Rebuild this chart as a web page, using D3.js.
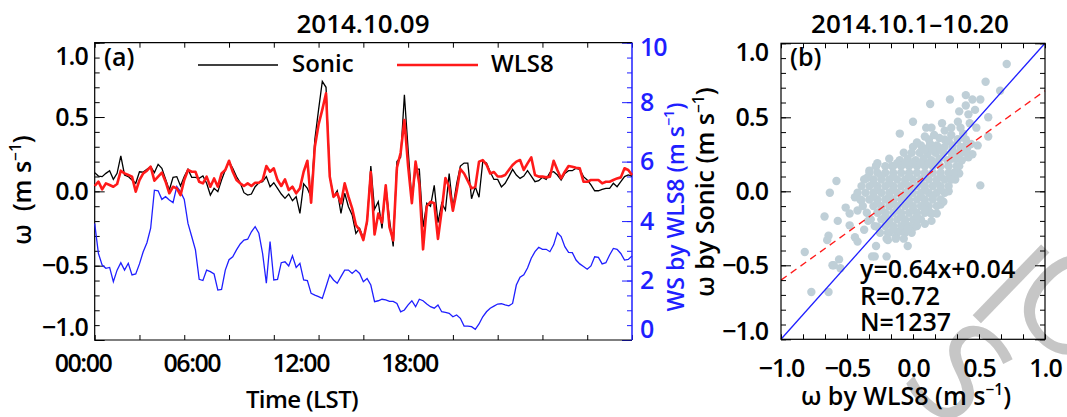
<!DOCTYPE html>
<html><head><meta charset="utf-8">
<script src="https://cdn.jsdelivr.net/npm/d3@7"></script>
<style>
body{margin:0;background:#fff;}
svg text{font-family:'Open Sans',sans-serif;font-weight:600;fill:#000;}
</style>
</head><body>
<svg id="chart" width="1067" height="417"></svg>
<script>
// ---------------- data ----------------
const timeLabels = ["00:00", "06:00", "12:00", "18:00"];
const omegaTicks = [-1, -0.5, 0, 0.5, 1];
const wsTicks = [0, 2, 4, 6, 8, 10];

// 10-min series, 00:00 .. 24:00 (145 samples)
const sonic = [
 0.126,0.103,0.099,0.121,0.139,0.081,0.121,0.238,0.110,0.099,0.076,0.054,0.132,0.130,0.148,0.166,0.126,0.182,0.155,0.081,
 0.009,0.094,0.099,0.036,0.099,0.148,0.094,0.094,0.087,0.103,0.054,-0.025,0.020,-0.002,0.076,0.144,0.200,
 0.155,0.099,0.058,-0.009,-0.025,-0.018,0.031,0.058,0.065,0.099,0.031,0.058,0.020,-0.018,-0.047,-0.018,-0.063,-0.036,-0.148,
 0.05,0.02,-0.04,0.35,0.55,0.74,0.70,0.10,-0.036,0.004,-0.148,-0.013,-0.103,-0.159,-0.283,-0.249,-0.316,-0.21,
 0.17,-0.12,-0.07,-0.25,0.04,-0.19,-0.37,0.20,0.23,0.65,0.28,-0.06,0.15,0.15,-0.24,-0.08,-0.10,0.04,-0.21,-0.08,
 -0.126,0.12,-0.11,0.05,0.17,0.19,0.19,-0.05,0.03,-0.04,0.20,0.19,0.13,0.08,0.08,0.03,
 0.054,0.099,0.148,0.11,0.087,0.103,0.139,0.103,0.065,0.072,0.094,0.081,0.126,0.132,0.11,0.076,0.121,0.139,0.139,0.155,
 0.148,0.099,0.076,0.043,0.004,0.004,0.013,0.02,0.02,0.054,0.031,0.065,0.099,0.11,0.103
];
const wls8 = [
 0.036,0.065,0.013,0.054,0.043,0.031,0.049,0.139,0.121,0.110,0.099,-0.002,0.076,0.121,0.139,0.166,0.072,0.099,0.126,0.065,
 -0.013,0.031,0.020,-0.025,0.076,0.144,0.132,0.132,0.065,0.054,0.099,0.031,0.087,0.031,0.121,0.144,0.206,
 0.132,0.076,0.054,0.036,0.054,0.036,0.058,0.058,0.076,0.170,0.132,0.155,0.076,0.036,0.081,0.009,0.031,-0.013,0.02,
 0.132,0.206,-0.076,0.30,0.45,0.55,0.66,0.099,-0.036,-0.013,-0.081,0.054,-0.036,-0.114,-0.227,-0.26,-0.328,-0.2,
 0.13,-0.29,-0.15,-0.21,0.04,-0.24,-0.33,0.16,0.26,0.48,0.17,-0.08,0.20,0.05,-0.39,-0.10,-0.07,-0.08,-0.32,-0.13,
 0.09,0.03,-0.13,0.0,0.15,0.12,0.07,0.02,0.03,0.20,0.21,0.18,0.12,0.13,0.10,0.10,
 0.11,0.144,0.177,0.2,0.211,0.144,0.188,0.229,0.11,0.099,0.099,0.094,0.099,0.206,0.144,0.087,0.132,0.17,0.166,0.159,
 0.155,0.065,0.065,0.076,0.076,0.076,0.054,0.065,0.065,0.076,0.087,0.094,0.155,0.144,0.11
];
const windSpeed = [
 3.92,2.91,2.52,2.41,2.44,1.96,2.35,2.60,2.35,2.58,2.19,2.22,2.56,2.97,3.27,3.76,5.04,5.02,4.73,4.82,
 4.71,4.62,5.16,4.99,4.73,3.92,3.48,3.03,2.04,2.00,2.35,2.30,2.22,1.68,1.70,2.35,2.70,
 2.80,3.03,3.23,3.36,3.39,3.64,3.81,3.59,2.91,1.91,3.31,2.02,2.04,2.60,2.63,2.49,2.83,2.44,2.58,2.02,
 2.00,1.57,1.51,1.46,1.40,1.79,2.19,2.02,1.91,2.13,2.35,2.35,2.24,2.35,2.24,1.96,2.07,
 1.85,1.29,1.32,1.37,1.35,1.30,1.30,1.23,0.95,1.01,1.18,1.32,1.12,1.37,1.32,1.21,1.12,1.07,1.18,0.95,
 0.93,0.90,0.78,0.84,0.73,0.47,0.47,0.45,0.36,0.54,0.78,0.95,1.07,1.14,1.21,1.22,
 1.18,1.15,1.23,1.85,2.11,2.19,2.42,2.75,2.97,3.12,3.05,3.05,2.97,3.20,3.61,3.48,3.14,2.95,2.94,2.69,
 2.56,2.47,2.38,2.49,2.80,2.78,2.56,2.60,2.86,3.08,3.05,2.91,2.69,2.71,2.83
];

// scatter (b): [omega by WLS8, omega by Sonic]
const scatterPoints = [
 [0.71,0.86],[0.55,0.74],[0.66,0.68],[0.28,0.62],[0.13,0.59],[0.40,0.65],[0.45,0.62],[0.51,0.62],[0.35,0.54],[0.40,0.58],
 [0.47,0.55],[0.57,0.50],[0.00,0.47],[0.14,0.43],[0.22,0.46],[0.09,0.37],[-0.10,0.39],[0.29,0.43],[0.34,0.47],[0.42,0.52],
 [0.43,0.46],[0.49,0.31],[0.57,0.37],[0.42,0.23],[0.35,0.17],[0.51,0.04],[0.29,0.10],[0.21,-0.09],[0.18,-0.15],[0.09,-0.22],
 [0.14,-0.20],[0.01,-0.24],[-0.58,0.07],[-0.63,-0.01],[-0.35,0.09],[-0.28,0.17],[-0.51,-0.11],[-0.42,-0.13],[-0.48,-0.15],
 [-0.57,-0.20],[-0.67,-0.17],[-0.64,-0.30],[-0.65,-0.33],[-0.44,-0.31],[-0.82,-0.41],[-0.61,-0.50],[-0.56,-0.46],[-0.55,-0.52],
 [-0.77,-0.68],[-0.64,-0.68],[-0.42,-0.34],[-0.29,-0.44],[-0.28,-0.37],[-0.48,-0.23],[-0.37,-0.26],[-0.19,-0.28],[-0.10,-0.27],
 [-0.31,-0.44],[-0.20,-0.44],[-0.60,-0.50],
 [0.10,0.43],[0.16,0.38],[0.24,0.35],[0.29,0.38],[0.34,0.35],[0.38,0.39],[0.39,0.30],[0.30,0.28],[0.19,0.30],[0.13,0.32],
 [0.24,0.41],[0.36,0.43],[0.40,0.35],[0.45,0.25],[0.44,0.32],[0.29,0.22],[0.35,0.25],[0.48,0.43],
 [-0.33,0.14],[-0.27,0.19],[-0.16,0.17],[-0.44,-0.04],[-0.39,-0.06],[-0.34,-0.20],[-0.27,-0.24],[-0.19,-0.33],[-0.13,-0.31],
 [-0.06,-0.26],[-0.04,-0.37],[0.04,-0.19],[0.14,-0.15],[0.23,-0.07],[0.27,0.00],[0.32,0.08],[0.35,0.12],
 [0.12,0.35],[0.20,0.36],[0.27,0.34],[0.34,0.35],
 [0.00,0.30],[0.06,0.31],[0.12,0.30],[0.18,0.31],[0.24,0.30],[0.30,0.31],[0.36,0.30],[0.41,0.29],
 [-0.07,0.26],[-0.01,0.26],[0.05,0.26],[0.11,0.25],[0.17,0.26],[0.23,0.26],[0.29,0.26],[0.35,0.26],[0.40,0.26],
 [-0.18,0.22],[-0.10,0.21],[-0.04,0.22],[0.02,0.21],[0.08,0.22],[0.14,0.21],[0.20,0.22],[0.26,0.21],[0.32,0.22],[0.37,0.21],
 [-0.28,0.17],[-0.21,0.17],[-0.15,0.17],[-0.09,0.17],[-0.03,0.17],[0.03,0.17],[0.09,0.17],[0.15,0.17],[0.21,0.17],[0.27,0.17],[0.33,0.17],
 [-0.33,0.125],[-0.27,0.125],[-0.21,0.125],[-0.15,0.125],[-0.09,0.125],[-0.03,0.125],[0.03,0.125],[0.09,0.125],[0.15,0.125],[0.21,0.125],[0.27,0.125],[0.31,0.125],
 [-0.37,0.08],[-0.30,0.08],[-0.24,0.08],[-0.18,0.08],[-0.12,0.08],[-0.06,0.08],[0.00,0.08],[0.06,0.08],[0.12,0.08],[0.18,0.08],[0.24,0.08],[0.29,0.08],
 [-0.39,0.035],[-0.33,0.035],[-0.27,0.035],[-0.21,0.035],[-0.15,0.035],[-0.09,0.035],[-0.03,0.035],[0.03,0.035],[0.09,0.035],[0.15,0.035],[0.21,0.035],[0.27,0.035],
 [-0.42,-0.01],[-0.36,-0.01],[-0.30,-0.01],[-0.24,-0.01],[-0.18,-0.01],[-0.12,-0.01],[-0.06,-0.01],[0.00,-0.01],[0.06,-0.01],[0.12,-0.01],[0.18,-0.01],[0.24,-0.01],
 [-0.40,-0.055],[-0.33,-0.055],[-0.27,-0.055],[-0.21,-0.055],[-0.15,-0.055],[-0.09,-0.055],[-0.03,-0.055],[0.03,-0.055],[0.09,-0.055],[0.15,-0.055],[0.21,-0.055],
 [-0.38,-0.10],[-0.30,-0.10],[-0.24,-0.10],[-0.18,-0.10],[-0.12,-0.10],[-0.06,-0.10],[0.00,-0.10],[0.06,-0.10],[0.12,-0.10],[0.18,-0.10],
 [-0.35,-0.145],[-0.27,-0.145],[-0.21,-0.145],[-0.15,-0.145],[-0.09,-0.145],[-0.03,-0.145],[0.03,-0.145],[0.09,-0.145],[0.13,-0.145],
 [-0.32,-0.19],[-0.24,-0.19],[-0.18,-0.19],[-0.12,-0.19],[-0.06,-0.19],[0.00,-0.19],[0.06,-0.19],
 [-0.29,-0.235],[-0.21,-0.235],[-0.15,-0.235],[-0.09,-0.235],[-0.03,-0.235],[0.03,-0.235],
 [-0.25,-0.28],[-0.18,-0.28],[-0.12,-0.28],[-0.06,-0.28],[-0.01,-0.28],
 [-0.20,-0.32],[-0.13,-0.32],[-0.07,-0.32],
 [0.03,0.33],[0.09,0.28],[0.15,0.28],[0.21,0.28],[-0.12,0.19],[-0.06,0.19],[0.00,0.19],[0.06,0.19],[0.12,0.19],[0.18,0.19],
 [-0.24,0.10],[-0.15,0.10],[-0.03,0.10],[0.09,0.10],[0.21,0.10],[-0.30,0.055],[-0.18,0.055],[-0.06,0.055],[0.06,0.055],[0.18,0.055],
 [-0.27,0.01],[-0.15,0.01],[-0.03,0.01],[0.09,0.01],[0.21,0.01],[-0.30,-0.035],[-0.18,-0.035],[-0.06,-0.035],[0.06,-0.035],[0.15,-0.035],
 [-0.27,-0.08],[-0.15,-0.08],[-0.03,-0.08],[0.09,-0.08],[-0.24,-0.125],[-0.12,-0.125],[0.00,-0.125],[0.09,-0.125],
 [-0.21,-0.17],[-0.09,-0.17],[0.03,-0.17],[-0.18,-0.21],[-0.06,-0.21],[-0.15,-0.255],[-0.04,-0.255]
];
const fitSlope = 0.64, fitIntercept = 0.04;
const statLines = ["y=0.64x+0.04", "R=0.72", "N=1237"];

// ---------------- drawing ----------------
const svg = d3.select("#chart");
const BLUE = "#1f1fff", RED = "#ff1a1a", DOT = "#bfcfd7";
const fmt = d3.format(".1f");

// watermark fragments (behind everything)
const wm = svg.append("g");
[["S", 899, 381], ["I", 963, 306], ["O", 1001, 303]].forEach(([t, x, y]) => {
  wm.append("text").text(t).attr("transform", `translate(${x},${y}) rotate(44)`)
    .style("font-size", "138px").style("font-weight", 400).style("fill", "#c6c6c6");
});

function unitText(sel, prefix, size) {
  sel.append("tspan").text(prefix + "(m s");
  sel.append("tspan").attr("dy", -size * 0.42).style("font-size", (size * 0.62) + "px").text("\u22121");
  sel.append("tspan").attr("dy", size * 0.42).text(")");
}

// ===== panel (a) =====
const A = {x0: 94.7, x1: 632, y0: 42.7, y1: 340};
const times = sonic.map((d, i) => i * 24 / (sonic.length - 1));
const xT = d3.scaleLinear().domain([0, 24]).range([A.x0, A.x1]);
const yW = d3.scaleLinear().domain([-1, 1]).range([A.y1, A.y0]);
const yWS = d3.scaleLinear().domain([0, 10]).range([A.y1, A.y0]);
const xLab = d3.scalePoint().domain(timeLabels).range([82.5, 409]);

const gA = svg.append("g");
const noDomain = g => g.select(".domain").remove();

gA.append("g").attr("transform", `translate(${A.x0},0)`)
  .call(d3.axisLeft(yW).tickValues(d3.range(-10, 11).map(d => d / 10)).tickSize(-5).tickFormat(""))
  .call(noDomain);
const axL = gA.append("g").attr("transform", `translate(${A.x0},0)`)
  .call(d3.axisLeft(yW).tickValues(omegaTicks).tickSize(-10).tickPadding(7).tickFormat(fmt))
  .call(noDomain);
axL.selectAll(".tick text").style("font-size", "25px").style("letter-spacing", "-1px")
  .attr("y", d => d === 1 ? 14 : d === -1 ? -13 : 0);

gA.append("g").attr("transform", `translate(${A.x1},0)`)
  .call(d3.axisRight(yWS).tickValues(d3.range(0, 21).map(d => d / 2)).tickSize(-5).tickFormat(""))
  .call(noDomain).selectAll("line").attr("stroke", BLUE);
const axR = gA.append("g").attr("transform", `translate(${A.x1},0)`)
  .call(d3.axisRight(yWS).tickValues(wsTicks).tickSize(-10).tickPadding(8).tickFormat(d3.format("d")))
  .call(noDomain);
axR.selectAll("line").attr("stroke", BLUE);
axR.selectAll(".tick text").style("font-size", "25px").style("fill", BLUE).style("letter-spacing", "-1px")
  .attr("y", d => d === 10 ? 5 : d === 0 ? -11 : 0);

gA.append("g").attr("transform", `translate(0,${A.y1})`)
  .call(d3.axisBottom(xT).tickValues(d3.range(0, 25, 2)).tickSize(-5).tickFormat("")).call(noDomain);
gA.append("g").attr("transform", `translate(0,${A.y0})`)
  .call(d3.axisTop(xT).tickValues(d3.range(0, 25, 2)).tickSize(-5).tickFormat("")).call(noDomain);
const axB = gA.append("g").attr("transform", `translate(0,${A.y1})`)
  .call(d3.axisBottom(xLab).tickSize(0).tickPadding(14)).call(noDomain);
axB.selectAll(".tick text").style("font-size", "25px").style("letter-spacing", "-1.5px");

gA.append("path").attr("d", `M${A.x1},${A.y0}H${A.x0}V${A.y1}H${A.x1}`).attr("fill", "none").attr("stroke", "#000").attr("stroke-width", 1.2);
gA.append("line").attr("x1", A.x1).attr("x2", A.x1).attr("y1", A.y0).attr("y2", A.y1).attr("stroke", BLUE).attr("stroke-width", 1.5);

const lineW = d3.line().x((d, i) => xT(times[i])).y(d => yW(d));
const lineWS = d3.line().x((d, i) => xT(times[i])).y(d => yWS(d));
gA.append("path").datum(windSpeed).attr("d", lineWS).attr("fill", "none").attr("stroke", BLUE).attr("stroke-width", 1.3);
gA.append("path").datum(sonic).attr("d", lineW).attr("fill", "none").attr("stroke", "#000").attr("stroke-width", 1.3);
gA.append("path").datum(wls8).attr("d", lineW).attr("fill", "none").attr("stroke", RED).attr("stroke-width", 2.6).attr("stroke-linejoin", "round");

gA.append("line").attr("x1", 198).attr("x2", 278).attr("y1", 65).attr("y2", 65).attr("stroke", "#000").attr("stroke-width", 1.3);
gA.append("text").attr("x", 292).attr("y", 72).style("font-size", "24px").text("Sonic");
gA.append("line").attr("x1", 397).attr("x2", 478).attr("y1", 65).attr("y2", 65).attr("stroke", RED).attr("stroke-width", 2.6);
gA.append("text").attr("x", 491).attr("y", 72).style("font-size", "24px").text("WLS8");
gA.append("text").attr("x", 104).attr("y", 66).style("font-size", "25px").text("(a)");

gA.append("text").attr("x", 363).attr("y", 33).attr("text-anchor", "middle").style("font-size", "26px").text("2014.10.09");
gA.append("text").attr("x", 302).attr("y", 408).attr("text-anchor", "middle").style("font-size", "24px").style("letter-spacing", "-0.6px").text("Time (LST)");
unitText(gA.append("text").attr("transform", "translate(31,190) rotate(-90)").attr("text-anchor", "middle").style("font-size", "25px"), "\u03c9\u00a0\u00a0", 25);
const wsLab = gA.append("text").attr("transform", "translate(684,207) rotate(-90)").attr("text-anchor", "middle").style("font-size", "23px").style("fill", BLUE);
unitText(wsLab, "WS by WLS8 ", 23);
wsLab.selectAll("tspan").style("fill", BLUE);

// ===== panel (b) =====
const B = {x0: 781, x1: 1045, y0: 43.3, y1: 339.3};
const xS = d3.scaleLinear().domain([-1, 1]).range([B.x0, B.x1]);
const yS = d3.scaleLinear().domain([-1, 1]).range([B.y1, B.y0]);
const gB = svg.append("g");

gB.selectAll("circle").data(scatterPoints).join("circle")
  .attr("cx", d => xS(d[0])).attr("cy", d => yS(d[1])).attr("r", 4.2).attr("fill", DOT);

gB.append("line").attr("x1", xS(-1)).attr("y1", yS(-1)).attr("x2", xS(1)).attr("y2", yS(1))
  .attr("stroke", BLUE).attr("stroke-width", 1.3);
gB.append("line").attr("x1", xS(-1)).attr("y1", yS(fitSlope * -1 + fitIntercept))
  .attr("x2", xS(1)).attr("y2", yS(fitSlope * 1 + fitIntercept))
  .attr("stroke", RED).attr("stroke-width", 1.3).attr("stroke-dasharray", "7,5");

const tenths = d3.range(-10, 11).map(d => d / 10);
const sixths = d3.range(0, 13).map(i => -1 + i / 6);
gB.append("g").attr("transform", `translate(${B.x0},0)`).call(d3.axisLeft(yS).tickValues(tenths).tickSize(-5).tickFormat("")).call(noDomain);
gB.append("g").attr("transform", `translate(${B.x1},0)`).call(d3.axisRight(yS).tickValues(tenths).tickSize(-5).tickFormat("")).call(noDomain);
gB.append("g").attr("transform", `translate(${B.x1},0)`).call(d3.axisRight(yS).tickValues(omegaTicks).tickSize(-10).tickFormat("")).call(noDomain);
const axBL = gB.append("g").attr("transform", `translate(${B.x0},0)`)
  .call(d3.axisLeft(yS).tickValues(omegaTicks).tickSize(-10).tickPadding(13).tickFormat(fmt)).call(noDomain);
axBL.selectAll(".tick text").style("font-size", "25px").style("letter-spacing", "-1px")
  .attr("y", d => d === 1 ? 9 : d === -1 ? -8 : 0);
gB.append("g").attr("transform", `translate(0,${B.y1})`).call(d3.axisBottom(xS).tickValues(sixths).tickSize(-5).tickFormat("")).call(noDomain);
gB.append("g").attr("transform", `translate(0,${B.y0})`).call(d3.axisTop(xS).tickValues(sixths).tickSize(-5).tickFormat("")).call(noDomain);
const axBB = gB.append("g").attr("transform", `translate(0,${B.y1})`)
  .call(d3.axisBottom(xS).tickValues(omegaTicks).tickSize(0).tickPadding(20).tickFormat(fmt)).call(noDomain);
axBB.selectAll(".tick text").style("font-size", "25px").style("letter-spacing", "-1px");

gB.append("rect").attr("x", B.x0).attr("y", B.y0).attr("width", B.x1 - B.x0).attr("height", B.y1 - B.y0)
  .attr("fill", "none").attr("stroke", "#000").attr("stroke-width", 1.2);

gB.append("text").attr("x", 790).attr("y", 66).style("font-size", "25px").text("(b)");
gB.selectAll("text.stat").data(statLines).join("text").attr("class", "stat")
  .attr("x", 860).attr("y", (d, i) => 278 + i * 26.5).style("font-size", "25px").text(d => d);

gB.append("text").attr("x", 910).attr("y", 33).attr("text-anchor", "middle").style("font-size", "26px").text("2014.10.1\u201310.20");
unitText(gB.append("text").attr("transform", "translate(906,405)").attr("text-anchor", "middle").style("font-size", "25px"), "\u03c9 by WLS8 ", 25);
unitText(gB.append("text").attr("transform", "translate(714,192) rotate(-90)").attr("text-anchor", "middle").style("font-size", "25px"), "\u03c9 by Sonic ", 25);
</script>
</body></html>
